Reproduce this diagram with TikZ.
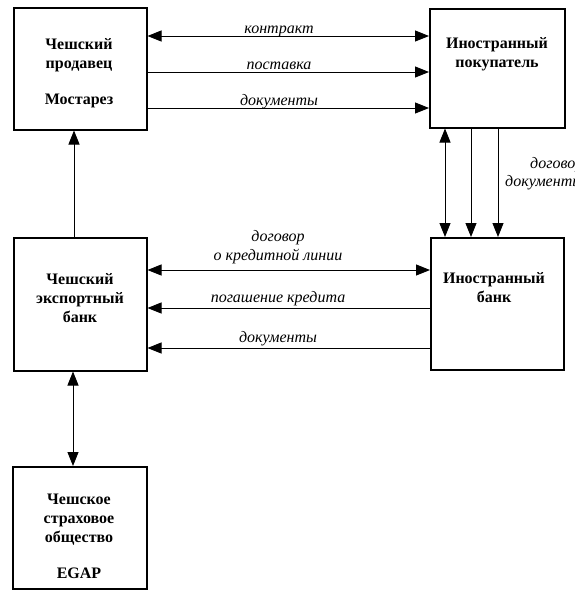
\documentclass[tikz,border=0pt]{standalone}
\usepackage{fontspec}
\setmainfont{Liberation Serif}
\usetikzlibrary{arrows.meta}
\tikzset{
  x=1pt,y=-1pt,
  box/.style={draw,line width=1.5pt,inner sep=0pt,anchor=north west},
  boxtext/.style={font=\fontsize{16}{19}\selectfont\bfseries,align=center,inner sep=0pt},
  lbl/.style={font=\fontsize{16}{19}\selectfont\itshape,inner sep=0pt,anchor=base},
  conn/.style={line width=0.9pt,-{Triangle[length=14pt,width=11pt]}},
  dconn/.style={line width=0.9pt,{Triangle[length=14pt,width=11pt]}-{Triangle[length=14pt,width=11pt]}},
}
\begin{document}
\begin{tikzpicture}
\useasboundingbox (0,0) rectangle (575,595);
% boxes
\node[box,minimum width=133pt,minimum height=122pt] (seller) at (13,7) {};
\node[box,minimum width=135pt,minimum height=119pt] (buyer) at (429,8) {};
\node[box,minimum width=133pt,minimum height=133pt] (ebank) at (13,237) {};
\node[box,minimum width=133pt,minimum height=132pt] (fbank) at (430,237) {};
\node[box,minimum width=134pt,minimum height=122pt] (ins) at (12,466) {};
% texts
\node[boxtext] (tseller) at (79,73) {Чешский\\продавец\\[17pt]Мостарез};
\node[boxtext] (tbuyer) at (497,54) {Иностранный\\покупатель};
\node[boxtext] (tebank) at (80,298) {Чешский\\экспортный\\банк};
\node[boxtext] (tfbank) at (494,288) {Иностранный\\банк};
\node[boxtext] (tins) at (79,536) {Чешское\\страховое\\общество\\[17pt]EGAP};
% coordinates
\coordinate (s1) at (seller.east |- 0,36);
\coordinate (s2) at (seller.east |- 0,72);
\coordinate (s3) at (seller.east |- 0,108);
\coordinate (b1) at (buyer.west |- 0,36);
\coordinate (b2) at (buyer.west |- 0,72);
\coordinate (b3) at (buyer.west |- 0,108);
\draw[dconn] (s1) -- (b1);
\draw[conn] (s2) -- (b2);
\draw[conn] (s3) -- (b3);
\node[lbl] (l1) at (279,33) {контракт};
\node[lbl] (l2) at (279,69) {поставка};
\node[lbl] (l3) at (279,105) {документы};
% buyer - foreign bank
\coordinate (bv1) at (buyer.south -| 445,0);
\coordinate (bv2) at (buyer.south -| 471,0);
\coordinate (bv3) at (buyer.south -| 498,0);
\coordinate (fv1) at (fbank.north -| 445,0);
\coordinate (fv2) at (fbank.north -| 471,0);
\coordinate (fv3) at (fbank.north -| 498,0);
\draw[dconn] (bv1) -- (fv1);
\draw[conn] (bv2) -- (fv2);
\draw[conn] (bv3) -- (fv3);
\node[lbl,anchor=base west] (l4) at (530,168) {договор};
\node[lbl,anchor=base west] (l5) at (505,186) {документы};
% banks
\coordinate (e1) at (ebank.east |- 0,270);
\coordinate (e2) at (ebank.east |- 0,308);
\coordinate (e3) at (ebank.east |- 0,348);
\coordinate (f1) at (fbank.west |- 0,270);
\coordinate (f2) at (fbank.west |- 0,308);
\coordinate (f3) at (fbank.west |- 0,348);
\draw[dconn] (e1) -- (f1);
\draw[conn] (f2) -- (e2);
\draw[conn] (f3) -- (e3);
\node[lbl,align=center,anchor=south] (l6) at (278,264) {договор\\о кредитной линии};
\node[lbl] (l7) at (278,302) {погашение кредита};
\node[lbl] (l8) at (278,342) {документы};
% verticals left
\coordinate (ev) at (ebank.north -| 74,0);
\coordinate (sv) at (seller.south -| 74,0);
\draw[conn] (ev) -- (sv);
\coordinate (ev2) at (ebank.south -| 73,0);
\coordinate (iv) at (ins.north -| 73,0);
\draw[dconn] (ev2) -- (iv);
\end{tikzpicture}
\end{document}
